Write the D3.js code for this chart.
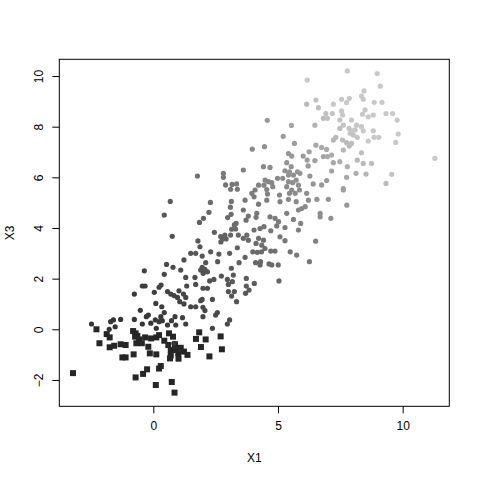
<!DOCTYPE html>
<html>
<head>
<meta charset="utf-8">
<script src="https://cdn.jsdelivr.net/npm/d3@7"></script>
<style>
  html, body { margin: 0; padding: 0; background: #fff; }
  svg { display: block; }
  text { font-family: "Liberation Sans", Arial, Helvetica, sans-serif; fill: #000; }
</style>
</head>
<body>
<svg id="chart" width="480" height="480"></svg>
<script>
// ---- data ----
const xTicks = [0, 5, 10];
const yTicks = [-2, 0, 2, 4, 6, 8, 10];
const xLabel = "X1";
const yLabel = "X3";

// group 1: squares
const squareX1 = [-2.28,-1.87,-1.75,-0.81,-0.71,-0.64,-0.57,-0.46,-0.68,-0.33,-0.09,0.12,0.23,0.63,0.44,0.79,
  -2.16,-1.75,-1.57,-1.31,-1.11,-0.20,0.70,0.90,1.10,1.23,1.37,-1.24,-1.11,-0.79,-0.14,0.12,0.70,0.67,1.01,
  -3.22,-0.71,-0.41,-0.25,0.23,0.30,0.10,0.74,0.85,
  1.84,1.71,2.10,2.70,1.91,2.75,2.25,
  -0.73,0.60,0.87,1.00];
const squareX3 = [0.00,-0.19,-0.32,-0.07,-0.16,-0.26,-0.40,-0.55,-0.55,-0.32,-0.36,-0.32,-0.23,-0.16,-0.45,-0.29,
  -0.55,-0.71,-0.65,-0.59,-0.62,-0.69,-0.82,-0.82,-0.73,-0.88,-1.01,-1.11,-1.11,-0.99,-0.95,-0.99,-1.03,-1.15,-1.16,
  -1.73,-1.90,-1.76,-1.58,-1.55,-1.45,-2.20,-2.08,-2.50,
  -0.12,-0.38,-0.40,-0.28,-0.70,-0.79,-1.07,
  -0.29,-0.62,-0.59,-0.95];

// other groups: filled circles
const circleX1 = [
  1.23,0.53,0.79,1.10,-0.36,0.44,1.30,-0.44,-0.33,0.31,0.23,1.34,-0.76,0.04,0.57,0.70,0.83,1.03,1.21,1.30,0.97,
  0.10,1.06,1.23,0.34,-0.52,-0.20,-0.28,0.44,0.30,0.08,0.36,0.87,0.73,1.17,-2.48,-1.71,-1.60,-1.31,-0.76,-0.44,
  -0.10,0.12,0.23,0.57,0.90,1.30,-1.77,-1.53,0.83,
  1.77,2.81,2.81,2.90,3.16,3.34,3.10,3.37,3.13,0.68,2.29,3.09,2.23,0.44,3.12,2.01,1.85,2.98,3.25,3.32,3.14,3.30,
  2.45,0.76,2.70,2.87,3.10,3.41,2.78,2.92,2.71,1.79,1.87,3.37,
  1.50,1.70,1.96,2.30,2.63,3.06,3.99,4.17,4.34,4.71,4.88,2.10,2.58,3.44,3.68,4.10,4.30,4.28,4.64,4.75,5.01,1.96,
  2.07,1.90,2.00,2.17,3.13,1.67,2.73,3.21,2.26,2.43,2.97,3.17,3.73,4.05,5.04,1.70,3.01,1.99,2.17,3.73,3.84,3.70,
  3.01,3.25,3.14,3.34,1.96,1.90,2.37,1.50,1.70,1.99,2.07,1.99,2.57,2.50,3.06,2.97,2.37,
  3.97,4.46,5.66,5.42,5.55,3.61,4.42,4.68,5.35,5.53,5.28,5.46,5.62,5.78,4.48,4.62,4.75,4.79,4.44,4.98,5.19,5.42,
  5.59,5.73,5.82,5.42,5.35,5.55,5.69,5.46,5.86,4.22,4.08,3.95,4.04,3.68,4.55,4.58,5.06,4.55,5.08,5.42,4.22,3.61,
  5.73,6.15,6.22,6.56,5.95,5.82,6.09,7.02,7.76,7.62,6.69,6.69,7.12,4.15,4.12,3.81,3.72,4.68,4.88,5.02,4.95,5.35,
  5.62,5.91,5.82,5.28,4.28,4.44,4.04,3.75,3.61,3.81,4.22,4.42,4.35,4.48,4.12,4.71,5.08,5.28,5.49,5.75,6.51,6.26,
  7.78,8.98,6.17,9.10,8.45,8.35,8.42,7.55,7.86,7.75,6.52,6.15,6.62,7.22,8.86,9.17,7.55,7.59,7.18,6.92,6.98,6.82,
  8.49,8.39,8.62,8.82,9.33,9.60,9.78,7.95,7.48,6.48,7.48,7.62,7.85,7.95,8.09,8.15,8.35,8.42,8.82,7.89,8.02,8.18,
  7.32,7.22,7.59,7.75,7.95,7.86,8.85,9.04,8.62,9.82,9.72,6.52,6.75,6.95,7.62,6.25,6.01,6.17,6.21,6.48,6.82,6.98,
  7.15,7.22,7.48,7.78,8.35,8.18,8.42,8.75,8.13,8.53,7.75,7.15,9.56,9.33,11.29,5.88,6.28,6.41,6.75,6.95,7.62,
  4.57,5.54,5.21];
const circleX3 = [
  2.74,2.56,2.45,2.34,2.31,2.17,2.05,1.71,1.71,1.75,1.66,1.71,1.39,1.46,1.49,1.39,1.33,1.52,1.39,1.26,1.26,
  1.02,1.09,1.00,0.89,0.75,0.56,0.50,0.66,0.50,0.37,0.34,0.50,0.34,0.46,0.21,0.30,0.37,0.39,0.39,0.21,
  0.24,0.04,0.30,0.17,0.17,0.21,0.00,0.10,-0.55,
  6.05,6.16,6.00,5.70,5.72,5.74,5.53,5.53,5.05,5.05,5.01,4.82,4.62,4.51,4.54,4.38,4.22,4.41,4.12,4.18,3.95,3.96,
  3.83,3.67,3.66,3.72,3.72,3.72,3.57,3.57,3.45,3.49,3.26,3.22,
  3.00,3.00,2.89,3.06,2.97,3.00,3.06,3.04,3.06,3.09,3.09,2.63,2.67,2.63,2.84,2.63,2.67,2.54,2.58,2.54,2.54,2.45,
  2.37,2.34,2.21,2.27,2.41,2.05,2.10,2.14,1.91,1.97,1.97,1.88,2.01,1.81,1.91,1.77,1.77,1.62,1.62,1.71,1.55,1.42,
  1.49,1.49,1.31,1.09,1.18,1.13,1.18,0.89,0.89,0.87,0.74,0.50,0.66,0.56,0.37,0.21,0.04,
  7.11,7.21,7.34,6.94,6.84,6.29,6.42,6.39,6.58,6.42,6.26,6.22,6.09,6.22,5.89,5.83,5.79,5.63,5.69,5.96,5.96,6.09,
  5.79,5.89,5.69,5.83,5.63,5.50,5.37,5.37,5.50,5.69,5.50,5.37,5.23,5.10,5.52,5.34,5.30,5.10,5.04,5.13,4.94,4.71,
  5.04,5.37,5.10,5.13,4.77,4.71,4.84,5.13,4.90,5.50,4.58,4.44,4.38,4.58,4.42,4.47,4.31,4.44,4.38,4.25,4.08,4.58,
  4.34,4.18,3.92,4.02,3.98,4.05,3.92,3.72,3.59,3.52,3.59,3.52,3.32,3.19,3.39,3.89,3.65,3.50,3.06,2.93,3.48,2.67,
  10.20,10.10,9.84,9.60,9.41,9.21,9.08,9.08,9.12,8.95,9.05,8.89,8.75,8.89,8.96,8.96,8.62,8.46,8.52,8.52,8.33,8.33,
  8.66,8.49,8.39,8.46,8.52,8.52,8.26,8.26,8.26,8.06,7.93,8.06,7.93,7.84,7.87,8.06,8.00,7.84,7.84,7.74,7.67,7.58,
  7.58,7.47,7.47,7.37,7.34,7.24,7.58,7.58,7.43,7.71,7.38,7.27,7.18,7.10,7.08,7.01,6.84,6.68,6.45,6.66,6.82,6.82,
  6.88,6.58,6.62,6.42,6.97,6.68,6.55,6.55,6.16,6.13,6.00,6.25,6.12,5.76,6.75,6.16,6.05,5.74,5.70,5.87,5.56,
  8.25,8.05,7.62];

// ---- layout ----
const svg = d3.select("#chart");
svg.append("rect").attr("width", 480).attr("height", 480).attr("fill", "#fff");

const pL = 59.3, pR = 449.3, pT = 59.3, pB = 406.3;
const x = d3.scaleLinear().domain([-3.77, 11.87]).range([pL, pR]);
const y = d3.scaleLinear().domain([-3.04, 10.66]).range([pB, pT]);

const shade = d3.scaleLinear()
  .domain([0, 6, 10, 13, 16])
  .range(["#353535", "#5e5e5e", "#828282", "#9c9c9c", "#c8c8c8"])
  .clamp(true);

const squares = squareX1.map((v, i) => ({ x: v, y: squareX3[i] }));
const circles = circleX1.map((v, i) => ({ x: v, y: circleX3[i] }))
  .sort((a, b) => (a.x + a.y) - (b.x + b.y));

const sq = 6;
svg.append("g").selectAll("rect").data(squares).join("rect")
  .attr("x", d => x(d.x) - sq / 2)
  .attr("y", d => y(d.y) - sq / 2)
  .attr("width", sq).attr("height", sq)
  .attr("fill", "#262626");

svg.append("g").selectAll("circle").data(circles).join("circle")
  .attr("cx", d => x(d.x))
  .attr("cy", d => y(d.y))
  .attr("r", 2.6)
  .attr("fill", d => shade(d.x + d.y));

// box
svg.append("rect")
  .attr("x", pL).attr("y", pT)
  .attr("width", pR - pL).attr("height", pB - pT)
  .attr("fill", "none").attr("stroke", "#000").attr("stroke-width", 1);

// x axis
const xAxis = d3.axisBottom(x).tickValues(xTicks).tickSize(7).tickPadding(8).tickFormat(d3.format("d"));
const gx = svg.append("g").attr("transform", `translate(0,${pB})`).call(xAxis);
gx.select(".domain").remove();
gx.selectAll("text").attr("font-size", 12).attr("font-family", "Liberation Sans, Arial, sans-serif").attr("fill", "#000");
gx.selectAll("line").attr("stroke", "#000");

// y axis
const yAxis = d3.axisLeft(y).tickValues(yTicks).tickSize(7).tickFormat(d3.format("d"));
const gy = svg.append("g").attr("transform", `translate(${pL},0)`).call(yAxis);
gy.select(".domain").remove();
gy.selectAll("line").attr("stroke", "#000");
gy.selectAll("text")
  .attr("font-size", 12).attr("font-family", "Liberation Sans, Arial, sans-serif").attr("fill", "#000")
  .attr("x", null).attr("dy", null)
  .attr("text-anchor", "middle")
  .attr("transform", `translate(${38.5 - pL + 4},0) rotate(-90)`);

// axis titles
svg.append("text").attr("x", (pL + pR) / 2).attr("y", 462)
  .attr("text-anchor", "middle").attr("font-size", 12).text(xLabel);
svg.append("text").attr("transform", `translate(14,${(pT + pB) / 2}) rotate(-90)`)
  .attr("text-anchor", "middle").attr("font-size", 12).text(yLabel);
</script>
</body>
</html>
